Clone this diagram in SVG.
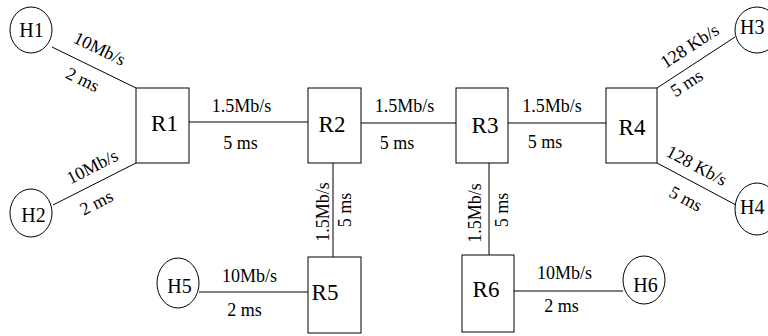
<svg xmlns="http://www.w3.org/2000/svg" width="768" height="336" viewBox="0 0 768 336">
<defs>
<style>
.box{fill:#fff;stroke:#000;stroke-width:1}
.host{fill:#fff;stroke:#000;stroke-width:1}
.ln{stroke:#000;stroke-width:1;fill:none}
</style>
</defs>
<rect width="768" height="336" fill="#fff"/>
<g id="connectors">
<line class="ln" x1="52" y1="47" x2="136" y2="88"/>
<line class="ln" x1="53" y1="205" x2="136" y2="163"/>
<line class="ln" x1="189" y1="122" x2="308" y2="122"/>
<line class="ln" x1="361" y1="123" x2="456" y2="123"/>
<line class="ln" x1="508" y1="123" x2="606" y2="123"/>
<line class="ln" x1="657" y1="88" x2="735" y2="37"/>
<line class="ln" x1="657" y1="163" x2="736" y2="205"/>
<line class="ln" x1="333" y1="163" x2="333" y2="257"/>
<line class="ln" x1="489" y1="163" x2="489" y2="255"/>
<line class="ln" x1="199" y1="292" x2="308" y2="292"/>
<line class="ln" x1="514" y1="291" x2="623" y2="291"/>
<text font-family="Liberation Serif" font-size="18" text-anchor="middle" transform="translate(97,54) rotate(26)">10Mb/s</text>
<text font-family="Liberation Serif" font-size="18" text-anchor="middle" transform="translate(80,85) rotate(26)">2 ms</text>
<text font-family="Liberation Serif" font-size="18" text-anchor="middle" transform="translate(95,172) rotate(-27)">10Mb/s</text>
<text font-family="Liberation Serif" font-size="18" text-anchor="middle" transform="translate(99,208) rotate(-27)">2 ms</text>
<text font-family="Liberation Serif" font-size="18" text-anchor="middle" x="241.5" y="112">1.5Mb/s</text>
<text font-family="Liberation Serif" font-size="18" text-anchor="middle" x="240.5" y="149">5 ms</text>
<text font-family="Liberation Serif" font-size="18" text-anchor="middle" x="404.5" y="112">1.5Mb/s</text>
<text font-family="Liberation Serif" font-size="18" text-anchor="middle" x="397" y="149">5 ms</text>
<text font-family="Liberation Serif" font-size="18" text-anchor="middle" x="552" y="112">1.5Mb/s</text>
<text font-family="Liberation Serif" font-size="18" text-anchor="middle" x="545" y="148">5 ms</text>
<text font-family="Liberation Serif" font-size="18" text-anchor="middle" transform="translate(693,51) rotate(-33)">128 Kb/s</text>
<text font-family="Liberation Serif" font-size="18" text-anchor="middle" transform="translate(690,88) rotate(-33)">5 ms</text>
<text font-family="Liberation Serif" font-size="18" text-anchor="middle" transform="translate(694,171) rotate(28)">128 Kb/s</text>
<text font-family="Liberation Serif" font-size="18" text-anchor="middle" transform="translate(683,204) rotate(28)">5 ms</text>
<text font-family="Liberation Serif" font-size="18" text-anchor="middle" transform="translate(329,212) rotate(-90)">1.5Mb/s</text>
<text font-family="Liberation Serif" font-size="18" text-anchor="middle" transform="translate(351,210) rotate(-90)">5 ms</text>
<text font-family="Liberation Serif" font-size="18" text-anchor="middle" transform="translate(481,213) rotate(-90)">1.5Mb/s</text>
<text font-family="Liberation Serif" font-size="18" text-anchor="middle" transform="translate(508,210) rotate(-90)">5 ms</text>
<text font-family="Liberation Serif" font-size="18" text-anchor="middle" x="249.5" y="282">10Mb/s</text>
<text font-family="Liberation Serif" font-size="18" text-anchor="middle" x="244.5" y="316">2 ms</text>
<text font-family="Liberation Serif" font-size="18" text-anchor="middle" x="564.5" y="279">10Mb/s</text>
<text font-family="Liberation Serif" font-size="18" text-anchor="middle" x="561.5" y="312">2 ms</text>
</g>
<g id="R1"><rect class="box" x="136" y="88" width="53" height="75"/><text font-family="Liberation Serif" font-size="23" text-anchor="middle" x="164.5" y="131">R1</text></g>
<g id="R2"><rect class="box" x="308" y="88" width="53" height="75"/><text font-family="Liberation Serif" font-size="23" text-anchor="middle" x="332" y="132">R2</text></g>
<g id="R3"><rect class="box" x="456" y="88" width="52" height="75"/><text font-family="Liberation Serif" font-size="23" text-anchor="middle" x="485" y="133">R3</text></g>
<g id="R4"><rect class="box" x="606" y="88" width="51" height="75"/><text font-family="Liberation Serif" font-size="23" text-anchor="middle" x="632" y="135">R4</text></g>
<g id="R5"><rect class="box" x="308" y="257" width="53" height="76"/><text font-family="Liberation Serif" font-size="23" text-anchor="middle" x="325" y="300">R5</text></g>
<g id="R6"><rect class="box" x="462" y="255" width="52" height="77"/><text font-family="Liberation Serif" font-size="23" text-anchor="middle" x="486" y="297">R6</text></g>
<g id="H1"><ellipse class="host" cx="31" cy="30" rx="21" ry="23"/><text font-family="Liberation Serif" font-size="20" text-anchor="middle" x="31.5" y="37">H1</text></g>
<g id="H2"><ellipse class="host" cx="31" cy="213" rx="21" ry="24"/><text font-family="Liberation Serif" font-size="20" text-anchor="middle" x="33.5" y="222">H2</text></g>
<g id="H3"><ellipse class="host" cx="757" cy="30" rx="22" ry="23"/><text font-family="Liberation Serif" font-size="20" x="740" y="34">H3</text></g>
<g id="H4"><ellipse class="host" cx="757" cy="209" rx="22" ry="26"/><text font-family="Liberation Serif" font-size="20" x="740" y="214">H4</text></g>
<g id="H5"><ellipse class="host" cx="178" cy="283" rx="21" ry="25"/><text font-family="Liberation Serif" font-size="20" text-anchor="middle" x="179.5" y="293">H5</text></g>
<g id="H6"><ellipse class="host" cx="644" cy="280" rx="21" ry="24"/><text font-family="Liberation Serif" font-size="20" text-anchor="middle" x="645.5" y="292">H6</text></g>
</svg>
